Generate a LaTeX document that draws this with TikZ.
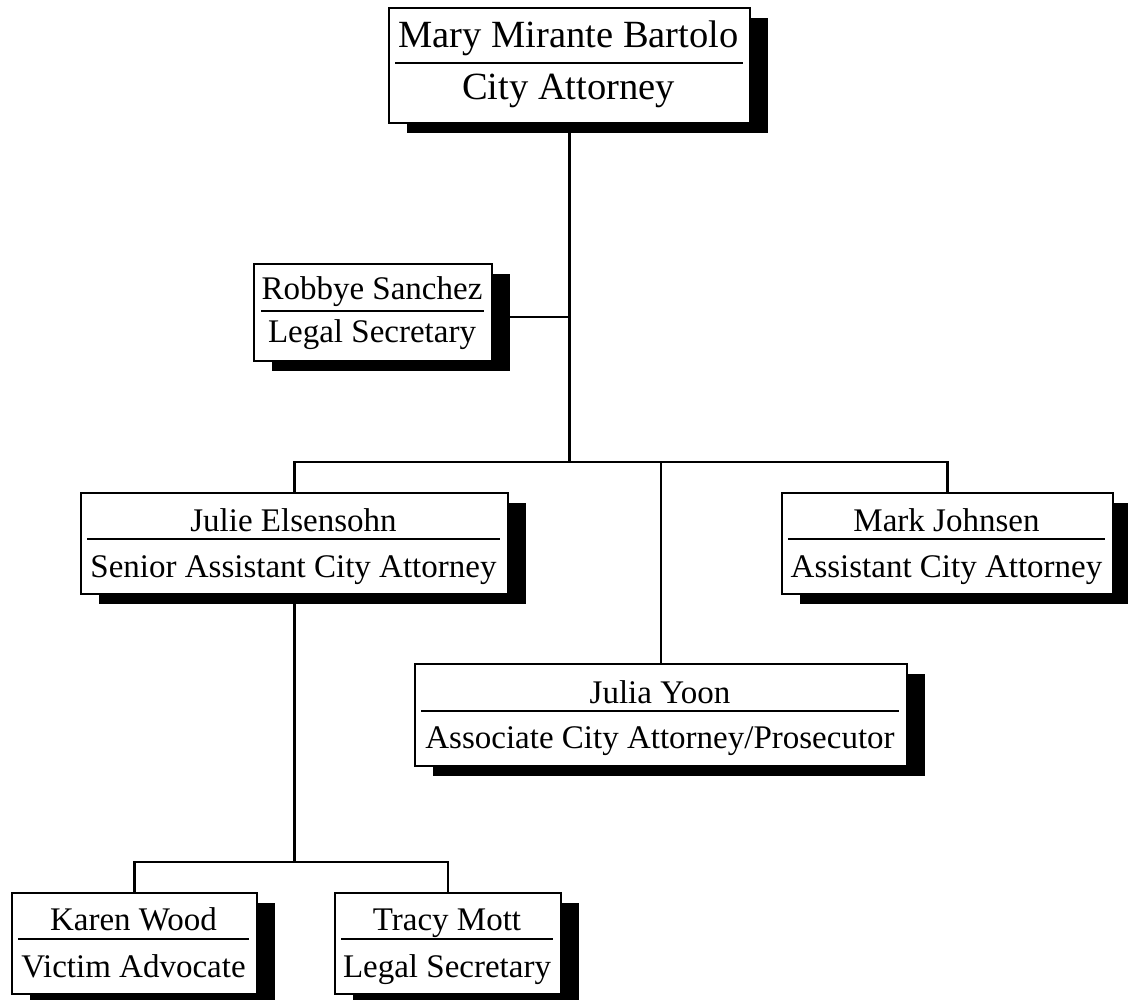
\documentclass[tikz,border=0pt]{standalone}
\usepackage{fontspec}
\setmainfont{Liberation Serif}
\usetikzlibrary{shadows,backgrounds}
\begin{document}
\begin{tikzpicture}[x=1pt,y=-1pt,
  box/.style={draw, line width=2pt, fill=white, inner sep=0pt, anchor=north west,
    drop shadow={shadow xshift=18pt, shadow yshift=-10pt, opacity=1, fill=black}},
  conn/.style={line width=2.4pt},
  divider/.style={line width=1.2pt},
  txt/.style={anchor=base, inner sep=0pt, font=\fontsize{33}{40}\selectfont},
  bigtxt/.style={anchor=base, inner sep=0pt, font=\fontsize{38.5}{46}\selectfont}]
\useasboundingbox (0,0) rectangle (1128,1000);
\coordinate (busy) at (0,462);
\coordinate (busb) at (0,862);
% ---- boxes ----
\node[box, minimum width=361pt, minimum height=115pt] (ca) at (388,7) {};
\node[box, minimum width=238pt, minimum height=97pt] (rs) at (253,263) {};
\node[box, minimum width=427pt, minimum height=101pt] (je) at (80,492) {};
\node[box, minimum width=331pt, minimum height=101pt] (mj) at (781,492) {};
\node[box, minimum width=492pt, minimum height=102pt] (jy) at (414,663) {};
\node[box, minimum width=245pt, minimum height=101pt] (kw) at (11,892) {};
\node[box, minimum width=226pt, minimum height=101pt] (tm) at (334,892) {};
% ---- texts and dividers ----
\node[bigtxt] (caN) at (568.5,48) {Mary Mirante Bartolo};
\draw[divider] (395,63) -- (743,63);
\node[bigtxt] (caT) at (568.5,100) {City Attorney};

\node[txt] (rsN) at (372,300) {Robbye Sanchez};
\draw[divider] (261,311) -- (484,311);
\node[txt] (rsT) at (372,343) {Legal Secretary};

\node[txt] (jeN) at (293.5,531) {Julie Elsensohn};
\draw[divider] (87,539) -- (500,539);
\node[txt] (jeT) at (293.5,577) {Senior Assistant City Attorney};

\node[txt] (mjN) at (946.5,531) {Mark Johnsen};
\draw[divider] (788,539) -- (1105,539);
\node[txt] (mjT) at (946.5,577) {Assistant City Attorney};

\node[txt] (jyN) at (660,703) {Julia Yoon};
\draw[divider] (421,711) -- (899,711);
\node[txt] (jyT) at (660,748) {Associate City Attorney/Prosecutor};

\node[txt] (kwN) at (133.5,930) {Karen Wood};
\draw[divider] (18,939) -- (249,939);
\node[txt] (kwT) at (133.5,977) {Victim Advocate};

\node[txt] (tmN) at (447,930) {Tracy Mott};
\draw[divider] (341,939) -- (553,939);
\node[txt] (tmT) at (447,977) {Legal Secretary};
% ---- connectors ----
\begin{pgfonlayer}{background}
\draw[conn] (ca.south) -- (ca.south |- busy);
\draw[conn] ([yshift=-4.5pt]rs.east) -- ([yshift=-4.5pt]rs.east -| ca.south);
\draw[conn] (je.north) -- (je.north |- busy) -- (mj.north |- busy) -- (mj.north);
\draw[conn] (jy.north) -- (jy.north |- busy);
\draw[conn] (je.south) -- (je.south |- busb);
\draw[conn] (kw.north) -- (kw.north |- busb) -- (tm.north |- busb) -- (tm.north);
\end{pgfonlayer}
\end{tikzpicture}
\end{document}
